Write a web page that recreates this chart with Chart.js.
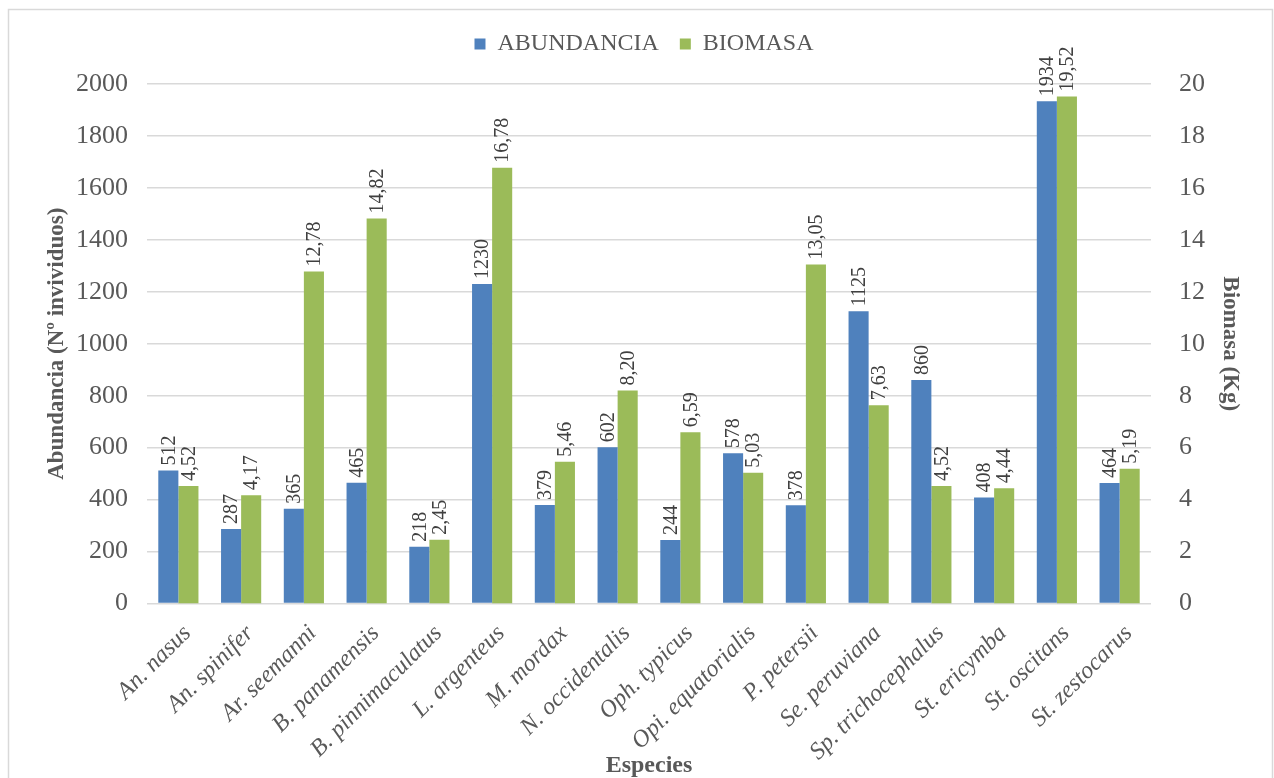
<!DOCTYPE html>
<html>
<head>
<meta charset="utf-8">
<script src="https://cdn.jsdelivr.net/npm/chart.js@4"></script>
<style>
    html, body { margin: 0; padding: 0; background: #fff; }
    #wrap { width: 1274px; height: 778px; position: relative; }
</style>
</head>
<body>
<div id="wrap"><canvas id="chart"></canvas></div>
<script>
// ========================================
// Data
// ========================================
const especies = [
    'An. nasus', 'An. spinifer', 'Ar. seemanni', 'B. panamensis',
    'B. pinnimaculatus', 'L. argenteus', 'M. mordax', 'N. occidentalis',
    'Oph. typicus', 'Opi. equatorialis', 'P. petersii', 'Se. peruviana',
    'Sp. trichocephalus', 'St. ericymba', 'St. oscitans', 'St. zestocarus'
];
const abundancia = [512, 287, 365, 465, 218, 1230, 379, 602, 244, 578, 378, 1125, 860, 408, 1934, 464];
const biomasa = [4.52, 4.17, 12.78, 14.82, 2.45, 16.78, 5.46, 8.20, 6.59, 5.03, 13.05, 7.63, 4.52, 4.44, 19.52, 5.19];
const ticksAbundancia = [0, 200, 400, 600, 800, 1000, 1200, 1400, 1600, 1800, 2000];
const ticksBiomasa = [0, 2, 4, 6, 8, 10, 12, 14, 16, 18, 20];

const SERIF = "'Liberation Serif', 'Times New Roman', serif";
const GREY = '#595959';

// draws the value above each bar, rotated
const barLabels = {
    id: 'barLabels',
    afterDatasetsDraw: function(chart) {
        const ctx = chart.ctx;
        ctx.save();
        ctx.fillStyle = '#404040';
        ctx.font = '20px ' + SERIF;
        ctx.textAlign = 'left';
        ctx.textBaseline = 'middle';
        chart.data.datasets.forEach((ds, di) => {
            const meta = chart.getDatasetMeta(di);
            meta.data.forEach((bar, i) => {
                const v = ds.data[i];
                const txt = di === 0 ? String(v) : v.toFixed(2).replace('.', ',');
                ctx.save();
                ctx.translate(bar.x + 1, bar.y - 5);
                ctx.rotate(-Math.PI / 2);
                ctx.fillText(txt, 0, 0);
                ctx.restore();
            });
        });
        ctx.restore();
    }
};

// outer frame of the chart
const frame = {
    id: 'frame',
    beforeDraw: function(chart) {
        const ctx = chart.ctx;
        ctx.save();
        ctx.fillStyle = '#fff';
        ctx.fillRect(0, 0, chart.width, chart.height);
        ctx.strokeStyle = '#d9d9d9';
        ctx.lineWidth = 1.5;
        ctx.strokeRect(8.5, 9.5, 1264, 800);
        ctx.restore();
    }
};

new Chart(document.getElementById('chart'), {
    type: 'bar',
    data: {
        labels: especies,
        datasets: [
            {
                label: 'ABUNDANCIA',
                data: abundancia,
                backgroundColor: '#4F81BD',
                yAxisID: 'y',
                categoryPercentage: 0.64,
                barPercentage: 1.0
            },
            {
                label: 'BIOMASA',
                data: biomasa,
                backgroundColor: '#9BBB59',
                yAxisID: 'y1',
                categoryPercentage: 0.64,
                barPercentage: 1.0
            }
        ]
    },
    options: {
        responsive: true,
        maintainAspectRatio: false,
        animation: false,
        layout: { padding: { left: 24, right: 10, top: 11, bottom: 0 } },
        plugins: {
            tooltip: { enabled: false },
            legend: {
                position: 'top',
                weight: 3000,
                labels: {
                    color: GREY,
                    font: { family: SERIF, size: 24 },
                    boxWidth: 11,
                    boxHeight: 11,
                    padding: 21
                }
            },
            // empty title, only used as a gap between legend and plot
            title: {
                display: true,
                text: '',
                position: 'top',
                weight: 2000,
                font: { size: 1, lineHeight: 1 },
                padding: { top: 17, bottom: 0 }
            }
        },
        scales: {
            x: {
                grid: { display: false },
                border: { display: false },
                ticks: {
                    color: GREY,
                    font: { family: SERIF, size: 24, style: 'italic' },
                    minRotation: 45,
                    maxRotation: 45,
                    padding: 8,
                    labelOffset: 9,
                    autoSkip: false
                },
                title: {
                    display: true,
                    text: 'Especies',
                    color: GREY,
                    font: { family: SERIF, size: 24, weight: 'bold' },
                    padding: { top: 0, bottom: -2 }
                },
                afterFit: function(scale) { scale.height = 174.5; }
            },
            y: {
                position: 'left',
                min: 0,
                max: 2000,
                afterBuildTicks: function(scale) {
                    scale.ticks = ticksAbundancia.map(v => ({ value: v }));
                },
                grid: { color: '#d9d9d9', lineWidth: 1.5, drawTicks: false },
                border: { display: false },
                ticks: {
                    color: GREY,
                    font: { family: SERIF, size: 26 },
                    padding: 19,
                    callback: function(value) { return String(value); }
                },
                title: {
                    display: true,
                    text: 'Abundancia (Nº invividuos)',
                    color: GREY,
                    font: { family: SERIF, size: 23, weight: 'bold' },
                    padding: { top: 19, bottom: 0 }
                },
                afterFit: function(scale) { scale.width = 123; }
            },
            y1: {
                position: 'right',
                min: 0,
                max: 20,
                afterBuildTicks: function(scale) {
                    scale.ticks = ticksBiomasa.map(v => ({ value: v }));
                },
                grid: { display: false, drawTicks: false },
                border: { display: false },
                ticks: {
                    color: GREY,
                    font: { family: SERIF, size: 26 },
                    padding: 28,
                    callback: function(value) { return String(value); }
                },
                title: {
                    display: true,
                    text: 'Biomasa (Kg)',
                    color: GREY,
                    font: { family: SERIF, size: 23, weight: 'bold' },
                    padding: { top: 20, bottom: 0 }
                },
                afterFit: function(scale) { scale.width = 113; }
            }
        }
    },
    plugins: [frame, barLabels]
});
</script>
</body>
</html>
